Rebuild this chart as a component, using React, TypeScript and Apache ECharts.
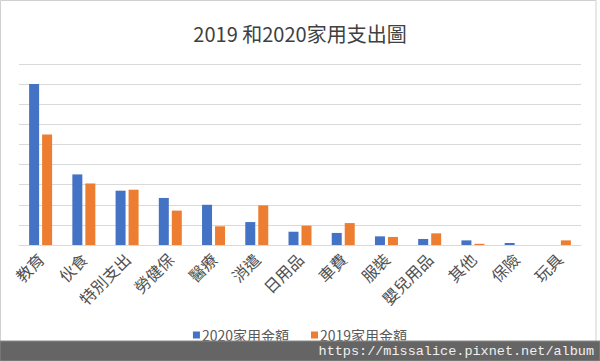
import React, { useEffect, useRef } from "react";
import * as echarts from "echarts";

const categories = ["教育", "伙食", "特別支出", "勞健保", "醫療", "消遣", "日用品", "車費", "服裝", "嬰兒用品", "其他", "保險", "玩具"];
const series2020 = [80000, 35100, 27000, 23400, 20000, 11400, 6600, 6000, 4300, 3000, 2300, 1000, 0];
const series2019 = [54900, 30600, 27500, 17100, 9300, 19700, 9600, 10900, 4000, 5800, 600, 0, 2300];
const seriesNames = ["2020家用金額", "2019家用金額"];
const titleText = "2019 和2020家用支出圖";
const watermarkText = "https://missalice.pixnet.net/album";

const CJK = "'Noto Sans CJK TC', 'Noto Sans', sans-serif";

export default function App() {
  const ref = useRef<HTMLDivElement>(null);
  useEffect(() => {
    if (!ref.current) return;
    const chart = echarts.init(ref.current, null, { renderer: "svg" });
    chart.setOption({
      animation: false,
      backgroundColor: "#ffffff",
      title: {
        text: titleText,
        left: "center",
        top: 18,
        textStyle: { fontFamily: CJK, fontSize: 20, fontWeight: "normal", color: "#404040" },
      },
      legend: {
        data: seriesNames,
        left: "center",
        top: 323,
        itemWidth: 7,
        itemHeight: 7,
        itemGap: 22,
        icon: "rect",
        textStyle: { fontFamily: CJK, fontSize: 14, color: "#595959", padding: [0, 0, 0, -3] },
      },
      grid: { left: 19, right: 19, top: 64, height: 181, containLabel: false },
      xAxis: {
        type: "category",
        data: categories,
        axisLine: { lineStyle: { color: "#d9d9d9", width: 1.2 } },
        axisTick: { show: false },
        axisLabel: {
          interval: 0,
          rotate: 45,
          margin: 11,
          fontFamily: CJK,
          fontSize: 16,
          color: "#505050",
        },
      },
      yAxis: {
        type: "value",
        min: 0,
        max: 90000,
        interval: 10000,
        axisLabel: { show: false },
        axisLine: { show: false },
        axisTick: { show: false },
        splitLine: { lineStyle: { color: "#d9d9d9", width: 1.2 } },
      },
      series: [
        {
          name: seriesNames[0],
          type: "bar",
          data: series2020,
          barWidth: 10,
          barGap: "30%",
          itemStyle: { color: "#4472c4" },
        },
        {
          name: seriesNames[1],
          type: "bar",
          data: series2019,
          barWidth: 10,
          barGap: "30%",
          itemStyle: { color: "#ed7d31" },
        },
      ],
      graphic: [
        {
          type: "rect",
          z: 100,
          shape: { x: 0.5, y: 0.5, width: 595.5, height: 345 },
          style: { fill: "none", stroke: "#d0d0d0", lineWidth: 1 },
          silent: true,
        },
        {
          type: "rect",
          z: 101,
          shape: { x: 0, y: 341, width: 600, height: 20 },
          style: { fill: "#656565", stroke: "#8a8a8a", lineWidth: 1 },
          silent: true,
        },
        {
          type: "text",
          z: 102,
          right: 6,
          top: 344,
          style: {
            text: watermarkText,
            fontFamily: "'Liberation Mono', 'DejaVu Sans Mono', monospace",
            fontSize: 13.5,
            fill: "#f0f0f0",
          },
          silent: true,
        },
      ],
    });
    return () => chart.dispose();
  }, []);
  return (
    <div
      ref={ref}
      style={{ position: "absolute", left: 0, top: 0, width: 600, height: 361 }}
    />
  );
}
